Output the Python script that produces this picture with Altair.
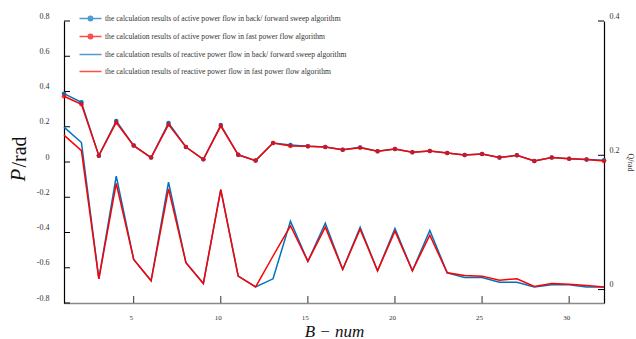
import altair as alt
import pandas as pd

bus = list(range(1, 33))
p_bfs = [0.388, 0.339, 0.036, 0.233, 0.093, 0.025, 0.221, 0.085, 0.015, 0.210, 0.041, 0.008,
         0.108, 0.096, 0.089, 0.085, 0.070, 0.083, 0.061, 0.074, 0.055, 0.062, 0.051, 0.040,
         0.045, 0.025, 0.038, 0.006, 0.025, 0.019, 0.014, 0.010]
p_fpf = [0.373, 0.327, 0.036, 0.224, 0.093, 0.025, 0.212, 0.085, 0.015, 0.204, 0.041, 0.008,
         0.108, 0.091, 0.089, 0.085, 0.069, 0.081, 0.061, 0.074, 0.055, 0.062, 0.051, 0.040,
         0.045, 0.025, 0.038, 0.006, 0.025, 0.019, 0.014, 0.006]
q_bfs = [0.242, 0.219, 0.016, 0.169, 0.045, 0.013, 0.160, 0.040, 0.009, 0.149, 0.020, 0.004,
         0.016, 0.102, 0.042, 0.099, 0.030, 0.093, 0.028, 0.091, 0.028, 0.088, 0.025, 0.018,
         0.018, 0.011, 0.011, 0.004, 0.007, 0.007, 0.004, 0.004]
q_fpf = [0.230, 0.207, 0.016, 0.158, 0.045, 0.013, 0.150, 0.040, 0.009, 0.149, 0.020, 0.004,
         0.050, 0.095, 0.042, 0.093, 0.030, 0.090, 0.028, 0.087, 0.028, 0.081, 0.025, 0.021,
         0.020, 0.014, 0.016, 0.0045, 0.009, 0.008, 0.006, 0.004]

labels = [
    "the calculation results of active power flow in back/ forward sweep algorithm",
    "the calculation results of active power flow in fast power flow algorithm",
    "the calculation results of reactive power flow in back/ forward sweep algorithm",
    "the calculation results of reactive power flow in fast power flow algorithm",
]
BLUE = "#0072BD"
RED = "#FF0000"
colors = [BLUE, RED, BLUE, RED]

left_ticks = [-0.8, -0.6, -0.4, -0.2, 0, 0.2, 0.4, 0.6, 0.8]
right_ticks = [0, 0.2, 0.4]
x_ticks = [5, 10, 15, 20, 25, 30]


def series_df(values, name):
    return pd.DataFrame({"bus": bus, "value": values, "series": name})


df_p1 = series_df(p_bfs, labels[0])
df_p2 = series_df(p_fpf, labels[1])
df_q1 = series_df(q_bfs, labels[2])
df_q2 = series_df(q_fpf, labels[3])
df_all = pd.concat([df_p1, df_p2, df_q1, df_q2])

SERIF = "Liberation Serif"
LABEL_COLOR = "#333333"
lab_expr = "datum.value == 0 ? '0' : replace(format(datum.value, '.1f'), '\u2212', '-')"

x_enc = alt.X(
    "bus:Q",
    scale=alt.Scale(domain=[1, 32], nice=False, zero=False),
    axis=alt.Axis(values=x_ticks, format="d", ticks=False, tickSize=0, grid=False,
                  domainColor="#8a8a8a", domainWidth=1.6, labelFont=SERIF, labelFontSize=7,
                  labelColor=LABEL_COLOR, labelPadding=10, labelOffset=-3, labelFlush=False,
                  title="B \u2212 num", titleFont=SERIF, titleFontSize=17,
                  titleFontStyle="italic", titleFontWeight="normal", titleColor="#111",
                  titlePadding=3),
)

yl_enc = alt.Y(
    "value:Q",
    scale=alt.Scale(domain=[-0.8, 0.8], nice=False, zero=False),
    axis=alt.Axis(orient="left", values=left_ticks, labelExpr=lab_expr, ticks=False, tickSize=0,
                  grid=False, domainColor="black", domainWidth=1.2, labelFont=SERIF,
                  labelFontSize=8, labelColor=LABEL_COLOR, labelPadding=15, labelOffset=-5,
                  labelFlush=False, labelOverlap=False, title=None),
)

yr_enc = alt.Y(
    "value:Q",
    scale=alt.Scale(domain=[-0.02, 0.4], nice=False, zero=False),
    axis=alt.Axis(orient="right", values=right_ticks, labelExpr=lab_expr, ticks=False, tickSize=0,
                  grid=False, domainColor="black", domainWidth=1.2, labelFont=SERIF,
                  labelFontSize=8, labelColor=LABEL_COLOR, labelPadding=5, labelOffset=-5,
                  labelFlush=False, labelOverlap=False, title="Q/rad", titleFont=SERIF,
                  titleFontSize=8, titleFontWeight="normal", titleColor=LABEL_COLOR,
                  titlePadding=6),
)

# legend symbols: a short line, with a filled-looking dot for the active-power series
dot_path = ("M-2,0H2M-0.4,0A0.4,0.4,0,1,1,0.4,0A0.4,0.4,0,1,1,-0.4,0"
            "M-0.15,0A0.15,0.15,0,1,1,0.15,0A0.15,0.15,0,1,1,-0.15,0")
line_path = "M-2,0H2"

leg = alt.Legend(title=None, orient="none", legendX=20, legendY=-9, symbolSize=121,
                 symbolStrokeWidth=1.5, labelFont=SERIF, labelFontSize=7.6,
                 labelColor=LABEL_COLOR, labelOffset=8, rowPadding=6, padding=0, labelLimit=0)

p_line1 = alt.Chart(df_p1).mark_line(strokeWidth=1.5, color=BLUE).encode(x=x_enc, y=yl_enc)
p_line2 = alt.Chart(df_p2).mark_line(strokeWidth=1.5, color=RED).encode(x=x_enc, y=yl_enc)
p_pts1 = alt.Chart(df_p1).mark_point(filled=True, size=20, opacity=1, color=BLUE).encode(
    x=x_enc, y=yl_enc)
p_pts2 = alt.Chart(df_p2).mark_point(filled=True, size=20, opacity=0.8, color=RED).encode(
    x=x_enc, y=yl_enc)

legend_layer = alt.Chart(df_all).transform_filter("false").mark_point(
    filled=False, strokeWidth=1.5).encode(
    x=x_enc, y=yl_enc,
    color=alt.Color("series:N", scale=alt.Scale(domain=labels, range=colors), legend=leg),
    shape=alt.Shape("series:N", scale=alt.Scale(domain=labels,
                    range=[dot_path, dot_path, line_path, line_path]), legend=leg),
)

lt_df = pd.DataFrame({"value": left_ticks})
left_tick_rules = alt.Chart(lt_df).mark_rule(color="black", strokeWidth=1).encode(
    y=yl_enc, x=alt.value(0), x2=alt.value(6))

xt_df = pd.DataFrame({"bus": x_ticks})
bottom_tick_rules = alt.Chart(xt_df).mark_rule(color="#333", strokeWidth=1).encode(
    x=x_enc, y=alt.value(275), y2=alt.value(282))

title_df = pd.DataFrame({"a": [0]})
p_title = alt.Chart(title_df).mark_text(
    text="P", font=SERIF, fontSize=21, fontStyle="italic", angle=270, align="center",
    baseline="middle", color="#111").encode(x=alt.value(-45), y=alt.value(154))
rad_title = alt.Chart(title_df).mark_text(
    text="/rad", font=SERIF, fontSize=20, angle=270, align="center",
    baseline="middle", color="#111").encode(x=alt.value(-44), y=alt.value(131))

left = alt.layer(left_tick_rules, bottom_tick_rules, p_line1, p_line2, p_pts1, p_pts2,
                 legend_layer, p_title, rad_title)

q_line1 = alt.Chart(df_q1).mark_line(strokeWidth=1.5, color=BLUE).encode(x=x_enc, y=yr_enc)
q_line2 = alt.Chart(df_q2).mark_line(strokeWidth=1.5, color=RED).encode(x=x_enc, y=yr_enc)
rt_df = pd.DataFrame({"value": right_ticks})
right_tick_rules = alt.Chart(rt_df).mark_rule(color="black", strokeWidth=1).encode(
    y=yr_enc, x=alt.value(534), x2=alt.value(540))

right = alt.layer(right_tick_rules, q_line1, q_line2)

chart = alt.layer(left, right).resolve_scale(y="independent").properties(
    width=540, height=282,
    padding={"left": 64, "top": 21, "right": 32, "bottom": 36},
    autosize=alt.AutoSizeParams(type="none"),
    background="white",
).configure_view(strokeWidth=0)

chart.save("out.html", embed_options={"renderer": "svg", "actions": False})
